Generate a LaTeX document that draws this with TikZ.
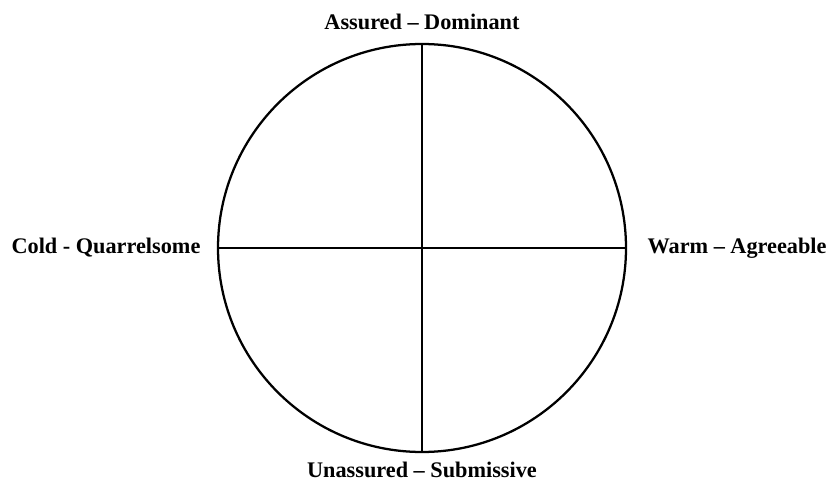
\documentclass[tikz,border=0pt]{standalone}
\usepackage{fontspec}
\setmainfont{Liberation Serif}
\usetikzlibrary{positioning}

\tikzset{
    axislabel/.style={font=\fontsize{16.7}{18}\selectfont\bfseries, inner sep=0pt},
    axisline/.style={line width=1.7pt}
}

\begin{document}
\begin{tikzpicture}[x=0.75pt, y=0.75pt]
\useasboundingbox (0,0) rectangle (830,482);

% circle and its four end points
\coordinate (O) at (422,234);
\coordinate (N) at (422,438);
\coordinate (S) at (422,30);
\coordinate (W) at (218,234);
\coordinate (E) at (626,234);
\draw[axisline] (O) circle (204);

% axes
\draw[axisline] (N) -- (S);
\draw[axisline] (W) -- (E);

% labels
\node[axislabel, above=10.5pt of N] (dominant) {Assured -- Dominant};
\node[axislabel, below=7pt of S] (submissive) {Unassured -- Submissive};
\node[axislabel, left=13pt of W] (cold) {Cold - Quarrelsome};
\node[axislabel, right=16pt of E] (warm) {Warm -- Agreeable};

\end{tikzpicture}
\end{document}
